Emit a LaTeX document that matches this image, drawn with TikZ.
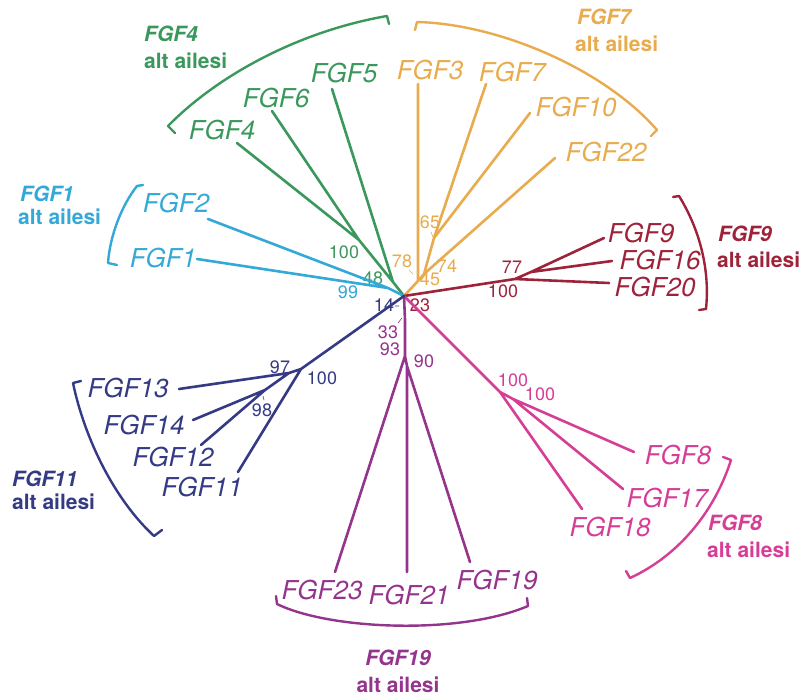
\documentclass[tikz,border=0pt]{standalone}
\usepackage{fontspec}
\setmainfont{TeX Gyre Heros}
\definecolor{cGreen}{RGB}{58,152,92}
\definecolor{cCyan}{RGB}{52,168,214}
\definecolor{cOrange}{RGB}{232,172,78}
\definecolor{cRed}{RGB}{158,35,58}
\definecolor{cPink}{RGB}{214,62,150}
\definecolor{cPurple}{RGB}{148,52,140}
\definecolor{cNavy}{RGB}{52,58,132}
\begin{document}
\begin{tikzpicture}[x=1pt,y=-1pt,
  leaf/.style={font=\fontsize{26}{28}\selectfont\itshape, inner sep=0pt},
  grpname/.style={font=\fontsize{21}{24}\selectfont\bfseries\itshape, inner sep=0pt, anchor=base west},
  grpsub/.style={font=\fontsize{21}{24}\selectfont\bfseries, inner sep=0pt, anchor=base west},
  bs/.style={font=\fontsize{18}{20}\selectfont, inner sep=0pt},
  edge/.style={line width=2.6pt, line cap=round, line join=round},
  brk/.style={line width=2.4pt, line cap=round, line join=round},
  tk/.style={line width=0.6pt}]
\useasboundingbox (0,0) rectangle (806,695);
\fill[white] (0,0) rectangle (806,695);

% root of the tree
\coordinate (R) at (404,296);

% ---------- FGF4 subfamily ----------
\coordinate (gA) at (359,240);
\coordinate (gB) at (393,282);
\coordinate (tF4) at (237,143);
\coordinate (tF6) at (272,111);
\coordinate (tF5) at (332,89);
\draw[edge,cGreen] (tF4) -- (gA) (tF6) -- (gA) -- (gB) (tF5) -- (gB) -- (R);
\node[leaf,text=cGreen] (lF4) at (222,130) {FGF4};
\node[leaf,text=cGreen] (lF6) at (276,98) {FGF6};
\node[leaf,text=cGreen] (lF5) at (344,73) {FGF5};
\node[bs,text=cGreen] (b100g) at (344,252) {100};
\node[bs,text=cGreen] (b48) at (373,278) {48};
\draw[brk,cGreen] (175,133) -- (168,126) .. controls (215,78) and (295,32) .. (387,16) -- (389,24);
\node[grpname,text=cGreen] (gn4) at (144,41.7) {FGF4};
\node[grpsub,text=cGreen] (gs4) at (144,68.3) {alt ailesi};

% ---------- FGF1 subfamily ----------
\coordinate (cA) at (388,288);
\coordinate (tF2) at (208,219);
\coordinate (tF1) at (197,259);
\draw[edge,cCyan] (tF2) -- (cA) (tF1) -- (cA) -- (R);
\node[leaf,text=cCyan] (lF2) at (176,203) {FGF2};
\node[leaf,text=cCyan] (lF1) at (163,258) {FGF1};
\node[bs,text=cCyan] (b99) at (348,292) {99};
\draw[brk,cCyan] (143,185) -- (137,186) .. controls (122,205) and (110,235) .. (108,263) -- (117,265);
\node[grpname,text=cCyan] (gn1) at (20,201.7) {FGF1};
\node[grpsub,text=cCyan] (gs1) at (18,225) {alt ailesi};

% ---------- FGF7 subfamily ----------
\coordinate (oA) at (434,238);
\coordinate (oB) at (424,274);
\coordinate (oC) at (418,281);
\coordinate (tF3) at (418,84);
\coordinate (tF7) at (486,84);
\coordinate (tF10) at (530,113);
\coordinate (tF22) at (555,158);
\draw[edge,cOrange] (tF7) -- (oA) (tF10) -- (oA) -- (oB) (tF22) -- (oB) -- (oC) (tF3) -- (oC) -- (R);
\node[leaf,text=cOrange] (lF3) at (430,70) {FGF3};
\node[leaf,text=cOrange] (lF7) at (512,72) {FGF7};
\node[leaf,text=cOrange] (lF10) at (576,107) {FGF10};
\node[leaf,text=cOrange] (lF22) at (606,152) {FGF22};
\node[bs,text=cOrange] (b65) at (430,222) {65};
\node[bs,text=cOrange] (b78) at (402,261) {78};
\node[bs,text=cOrange] (b74) at (447,266) {74};
\node[bs,text=cOrange] (b45) at (430,279) {45};
\coordinate (k65a) at (431,232); \coordinate (k65b) at (433,237);
\coordinate (k78a) at (409,270); \coordinate (k78b) at (413,274);
\draw[tk,cOrange] (k65a) -- (k65b) (k78a) -- (k78b);
\draw[brk,cOrange] (415,30) -- (417,22) .. controls (500,24) and (605,70) .. (657,130) -- (651,136);
\node[grpname,text=cOrange] (gn7) at (577,25) {FGF7};
\node[grpsub,text=cOrange] (gs7) at (575,52) {alt ailesi};

% ---------- FGF9 subfamily ----------
\coordinate (dA) at (515,279);
\coordinate (dB) at (531,272);
\coordinate (tF9) at (604,238);
\coordinate (tF16) at (612,261);
\coordinate (tF20) at (609,283);
\draw[edge,cRed] (R) -- (dA) -- (tF20) (dA) -- (dB) -- (tF9) (dB) -- (tF16);
\node[leaf,text=cRed] (lF9) at (641,233) {FGF9};
\node[leaf,text=cRed] (lF16) at (660,260) {FGF16};
\node[leaf,text=cRed] (lF20) at (655,287) {FGF20};
\node[bs,text=cRed] (b77) at (512,267) {77};
\node[bs,text=cRed] (b100r) at (503,291) {100};
\node[bs,text=cRed] (b23) at (420,305) {23};
\draw[brk,cRed] (673,197) -- (679,196) .. controls (700,230) and (710,270) .. (706,309) -- (699,310);
\node[grpname,text=cRed] (gn9) at (718,242) {FGF9};
\node[grpsub,text=cRed] (gs9) at (717,268) {alt ailesi};

% ---------- FGF8 subfamily ----------
\coordinate (kA) at (500,392);
\coordinate (kB) at (513,399);
\coordinate (tF18) at (582,509);
\coordinate (tF8) at (634,452);
\coordinate (tF17) at (623,489);
\draw[edge,cPink] (R) -- (kA) -- (tF18) (kA) -- (kB) -- (tF8) (kB) -- (tF17);
\node[leaf,text=cPink] (lF8) at (678,455) {FGF8};
\node[leaf,text=cPink] (lF17) at (667,498) {FGF17};
\node[leaf,text=cPink] (lF18) at (610,527) {FGF18};
\node[bs,text=cPink] (b100k) at (513,380) {100};
\node[bs,text=cPink] (b100m) at (540,394) {100};
\draw[brk,cPink] (723,457) -- (731,460) .. controls (715,510) and (680,555) .. (630,578) -- (626,571);
\node[grpname,text=cPink] (gn8) at (708,530) {FGF8};
\node[grpsub,text=cPink] (gs8) at (707,557) {alt ailesi};

% ---------- FGF19 subfamily ----------
\coordinate (pA) at (405,320);
\coordinate (pB) at (405,356);
\coordinate (pC) at (407,366);
\coordinate (tF23) at (335,572);
\coordinate (tF21) at (407,572);
\coordinate (tF19) at (470,562);
\draw[edge,cPurple] (R) -- (pA) -- (pB) -- (tF23) (pB) -- (pC) -- (tF21) (pC) -- (tF19);
\node[leaf,text=cPurple] (lF23) at (322,590) {FGF23};
\node[leaf,text=cPurple] (lF21) at (409,595) {FGF21};
\node[leaf,text=cPurple] (lF19) at (497,580) {FGF19};
\node[bs,text=cPurple] (b33) at (388,332) {33};
\node[bs,text=cPurple] (b93) at (390,349) {93};
\node[bs,text=cPurple] (b90) at (424,361) {90};
\coordinate (k33a) at (398,323); \coordinate (k33b) at (402,318);
\draw[tk,cPurple] (k33a) -- (k33b);
\draw[brk,cPurple] (276,596) -- (277,604) .. controls (330,630) and (460,635) .. (528,606) -- (527,598);
\node[grpname,text=cPurple,anchor=base] (gn19) at (398,665) {FGF19};
\node[grpsub,text=cPurple,anchor=base] (gs19) at (398,692) {alt ailesi};

% ---------- FGF11 subfamily ----------
\coordinate (nA) at (301,369);
\coordinate (nB) at (289,373);
\coordinate (nC) at (265,390);
\coordinate (tF13) at (179,389);
\coordinate (tF14) at (193,420);
\coordinate (tF12) at (201,445);
\coordinate (tF11) at (238,472);
\draw[edge,cNavy] (R) -- (nA) -- (tF11) (nA) -- (nB) -- (tF13) (nB) -- (nC) -- (tF14) (nC) -- (tF12);
\node[leaf,text=cNavy] (lF13) at (128,388) {FGF13};
\node[leaf,text=cNavy] (lF14) at (144,425) {FGF14};
\node[leaf,text=cNavy] (lF12) at (173,457) {FGF12};
\node[leaf,text=cNavy] (lF11) at (202,487) {FGF11};
\node[bs,text=cNavy] (b97) at (280,367) {97};
\node[bs,text=cNavy] (b100n) at (322,378) {100};
\node[bs,text=cNavy] (b98) at (262,410) {98};
\node[bs,text=cNavy] (b14) at (384,305) {14};
\coordinate (k98a) at (263,396); \coordinate (k98b) at (264,400);
\coordinate (k14a) at (395,306); \coordinate (k14b) at (399,306);
\draw[tk,cNavy] (k98a) -- (k98b) (k14a) -- (k14b);
\draw[brk,cNavy] (81,381) -- (73,383) .. controls (85,440) and (115,500) .. (154,536) -- (162,530);
\node[grpname,text=cNavy] (gn11) at (12,486) {FGF11};
\node[grpsub,text=cNavy] (gs11) at (12,509) {alt ailesi};
\end{tikzpicture}
\end{document}
